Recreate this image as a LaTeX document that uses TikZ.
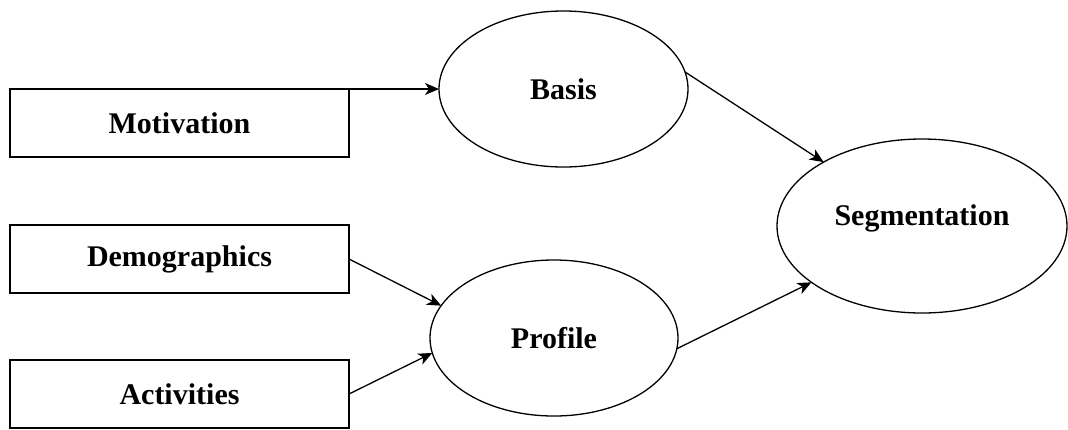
\documentclass[tikz,border=0pt]{standalone}
\usepackage{fontspec}
\setmainfont{Liberation Serif}
\usetikzlibrary{arrows.meta,shapes.geometric}
\begin{document}
\begin{tikzpicture}[x=1pt,y=-1pt,
  every node/.style={font=\fontsize{30}{36}\selectfont\bfseries, line width=1.3pt, inner sep=0pt, outer sep=0pt},
  box/.style={draw, rectangle, minimum width=339pt, minimum height=68pt},
  oval/.style={draw, ellipse},
  conn/.style={line width=1.3pt, -{Stealth[length=14pt,width=12pt,inset=4pt]}}]
\useasboundingbox (0,0) rectangle (1068,429);
\node[box] (mot) at (179.5,123) {Motivation};
\node[box] (dem) at (179.5,259) {Demographics};
\node[box] (act) at (179.5,394) {Activities};
\node[oval, minimum width=249pt, minimum height=156pt] (basis) at (563.5,89) {Basis};
\node[oval, minimum width=248pt, minimum height=156pt] (prof) at (554,338) {Profile};
\node[oval, minimum width=290pt, minimum height=174pt, text height=20pt, text depth=22pt] (seg) at (922,226) {Segmentation};
\draw[conn] (mot.north east) -- (basis.west);
\draw[conn] (dem.east) -- (prof.164);
\draw[conn] (act.east) -- (prof.187);
\draw[conn] (basis.8) -- (seg.147);
\draw[conn] (prof.-5) -- (seg.207);
\end{tikzpicture}
\end{document}
